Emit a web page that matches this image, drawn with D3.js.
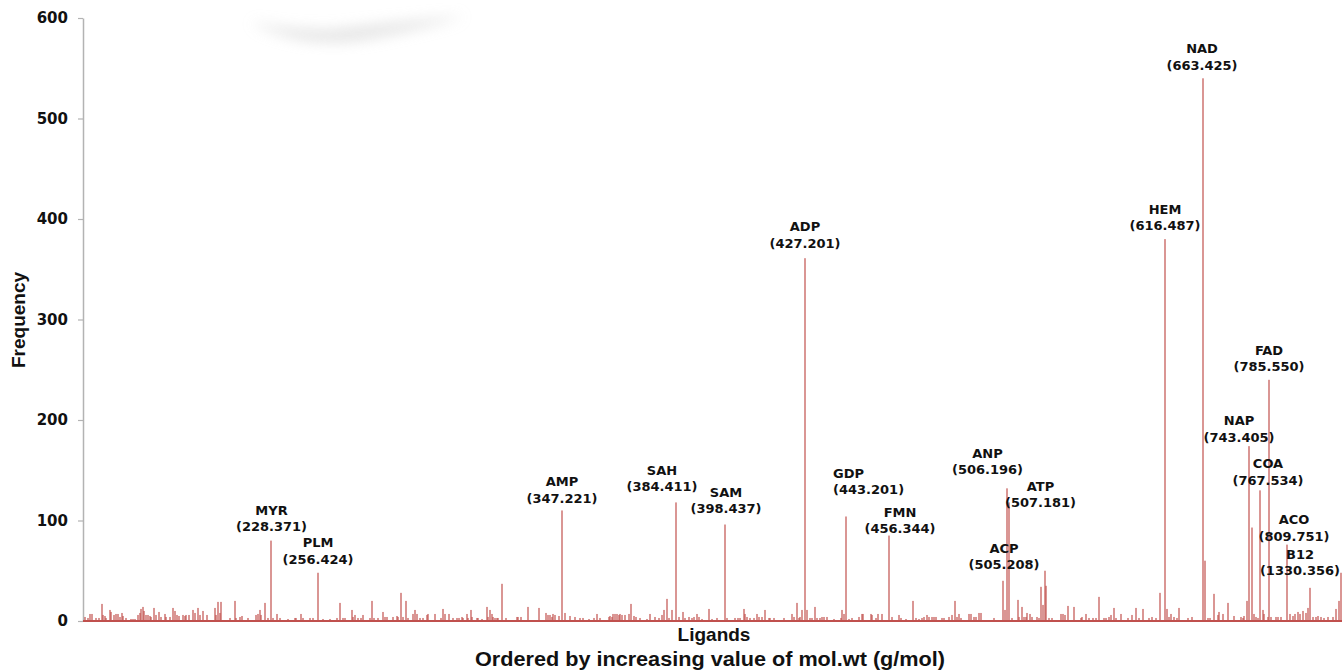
<!DOCTYPE html>
<html>
<head>
<meta charset="utf-8">
<script src="https://cdn.jsdelivr.net/npm/d3@7"></script>
<style>
  body { margin: 0; background: #fff; }
  svg { display: block; }
</style>
</head>
<body>
<div id="chart"></div>
<script>
// ligands ranked by increasing mol.wt (g/mol); only ranks with a visible spike are listed
var ligandCount = 1260;
var yTicks = [0, 100, 200, 300, 400, 500, 600];

// [rank, frequency]
var spikes = [
  [2,4],[5,3],[7,7],[9,7],[13,3],[16,3],[19,17],[20,6],[22,5],[23,3],[27,11],[28,9],[31,6],[33,7],[35,7],[37,4],[39,8],[40,5],[43,3],[48,2],
  [50,2],[52,2],[55,6],[57,8],[58,12],[60,14],[61,10],[63,6],[65,6],[67,5],[68,4],[71,13],[73,6],[76,9],[78,4],[82,7],[83,4],[87,4],[90,13],[92,10],
  [94,6],[96,5],[100,6],[102,5],[103,6],[106,6],[110,11],[112,8],[115,13],[117,6],[120,10],[124,6],[132,13],[133,6],[135,19],[137,8],[138,19],[147,3],[152,20],[153,3],
  [157,4],[159,5],[165,3],[173,6],[175,7],[177,11],[178,6],[182,18],[185,3],[188,80],[190,3],[194,7],[197,3],[205,2],[212,3],[213,3],[218,7],[220,3],[227,3],[230,3],
  [235,48],[240,2],[247,2],
  [254,3],[257,18],[260,3],[262,3],[269,11],[270,4],[272,6],[275,3],[278,3],[280,6],[287,3],[289,20],[291,3],[295,3],[300,9],[302,4],[304,4],[310,4],[314,5],[315,4],
  [318,28],[320,4],[323,20],[325,3],[330,7],[332,11],[334,7],[337,3],[340,3],[344,6],[345,7],[352,7],[358,3],[360,12],[362,7],[366,7],[370,3],[374,3],[376,3],[379,4],
  [380,3],[384,7],[385,3],[388,11],[389,4],[394,3],[395,3],[399,2],[404,14],[405,4],[407,11],[409,7],[410,4],[412,3],[414,3],[415,3],[419,37],[423,3],[434,4],[435,4],
  [438,4],[445,14],[456,13],[463,8],[465,6],[467,6],[469,4],[470,7],[472,6],[476,5],[479,110],[482,8],[487,5],[492,4],[497,3],[500,3],
  [506,2],[511,3],[514,7],[517,3],[526,4],[527,5],[529,4],[530,7],[532,7],[534,7],[536,6],[537,7],[539,6],[542,6],[546,7],[548,17],[551,5],[553,4],[557,3],[564,2],
  [567,7],[572,4],[576,3],[579,6],[581,11],[584,22],[586,3],[589,11],[593,118],[596,4],[600,9],[602,3],[606,4],[609,3],[611,4],[614,7],[616,4],[619,2],[626,12],[629,2],
  [634,3],[642,96],[644,3],[652,3],[655,3],[657,3],[661,12],[662,7],[664,4],[667,3],[671,3],[674,7],[676,4],[679,4],[682,11],[686,3],[687,3],[691,3],[701,3],[709,7],
  [711,4],[714,18],[716,3],[717,4],[719,11],[722,361],[724,11],[727,3],[729,3],[732,14],[734,3],[737,3],[739,4],[741,4],[744,4],[751,2],
  [758,3],[759,11],[761,7],[763,104],[766,2],[769,3],[776,4],[779,7],[780,7],[788,7],[789,6],[793,3],[795,7],[799,7],[806,85],[809,4],[816,6],[818,3],[823,2],[830,20],
  [833,3],[836,2],[839,3],[841,4],[844,6],[846,4],[849,4],[851,4],[853,4],[859,3],[861,3],[866,4],[869,6],[872,20],[874,4],[876,7],[878,3],[886,7],[888,7],[891,4],
  [893,4],[896,8],[898,8],[911,3],[920,40],[922,11],[924,132],[926,118],[929,3],[935,21],[936,4],[939,14],[941,4],[943,4],[944,8],[947,7],[949,4],[954,4],[956,3],[958,34],
  [960,16],[962,50],[963,35],[966,3],[969,3],[978,7],[980,7],[982,6],[985,15],[991,14],[998,3],[999,4],[1003,7],[1006,3],
  [1010,3],[1013,3],[1016,24],[1021,3],[1023,3],[1026,4],[1028,6],[1031,13],[1033,3],[1038,7],[1045,3],[1049,6],[1053,13],[1056,3],[1060,12],[1066,3],[1069,4],[1073,3],[1077,28],[1082,380],
  [1084,12],[1086,4],[1088,7],[1091,4],[1094,3],[1096,13],[1105,3],[1109,4],[1120,540],[1122,60],[1125,3],[1127,3],[1131,27],[1135,6],[1136,9],[1140,7],[1145,18],[1151,5],[1158,4],[1160,3],
  [1161,5],[1164,20],[1166,174],[1169,93],[1171,7],[1173,4],[1175,3],[1177,130],[1180,11],[1181,7],[1185,4],[1186,240],[1188,4],[1193,4],[1195,4],[1198,4],[1204,76],[1207,7],[1210,5],[1212,7],
  [1215,9],[1217,7],[1220,10],[1223,8],[1225,13],[1227,33],[1230,4],[1233,4],[1235,5],[1238,4],[1241,3],[1245,4],[1250,4],[1253,12],[1256,20],[1258,48]
];

var labelCodes = ["MYR","PLM","AMP","SAH","SAM","ADP","GDP","FMN","ACP","ANP","ATP","HEM","NAD","NAP","COA","FAD","ACO","B12"];
var labelMolWt = ["228.371","256.424","347.221","384.411","398.437","427.201","443.201","456.344","505.208","506.196","507.181","616.487","663.425","743.405","767.534","785.550","809.751","1330.356"];

// where each label sits, in chart units: [rank, frequency level of the name baseline]
var labelAnchor = [[188.5,105.5],[235,73.6],[479,134.3],[579,145.3],[643,123.4],[722,388],[750,142.3],[817,103.5],[921,67.7],
                   [904.5,162.2],[957.5,129.4],[1082,405],[1119,564.7],[1156,195],[1185,152.2],[1186,264.7],[1211,96.5],[1217,61.7]];
var labelAlign = {"GDP": "start"};

var W = 1342, H = 671;
var barColor = "#c0504d";

var svg = d3.select("#chart")
  .append("svg")
    .attr("width", W)
    .attr("height", H);

var x = d3.scaleLinear().domain([0, ligandCount]).range([83, 1343]);
var y = d3.scaleLinear().domain([0, 600]).range([621, 18]);

// faint smudge near the top of the scan
var defs = svg.append("defs");
defs.append("filter").attr("id", "blur")
  .attr("x", "-50%").attr("y", "-50%").attr("width", "200%").attr("height", "200%")
  .append("feGaussianBlur").attr("stdDeviation", 7);
svg.append("path")
  .attr("d", "M250,22 Q300,48 360,40 Q420,30 465,16 Q400,22 330,30 Q285,30 250,22 Z")
  .attr("fill", "#d8d8d8")
  .attr("opacity", 0.7)
  .attr("filter", "url(#blur)");

// y axis
var yAxis = svg.append("g")
  .attr("transform", "translate(83,0)")
  .call(d3.axisLeft(y).tickValues(yTicks).tickSize(5).tickSizeOuter(0).tickPadding(10));
yAxis.select(".domain").attr("stroke", "#b3b3b3").attr("stroke-width", 1.5);
yAxis.selectAll(".tick line").attr("stroke", "#b3b3b3").attr("stroke-width", 1.2);
yAxis.selectAll(".tick text")
  .style("font-family", "DejaVu Sans")
  .style("font-weight", "bold")
  .style("font-size", "15px")
  .attr("fill", "#111");

// spikes
svg.append("g")
  .selectAll("rect")
  .data(spikes)
  .enter()
  .append("rect")
    .attr("x", function(d){ return x(d[0]) - 0.75; })
    .attr("width", 1.5)
    .attr("y", function(d){ return y(d[1]); })
    .attr("height", function(d){ return y(0) - y(d[1]); })
    .attr("fill", barColor)
    .attr("fill-opacity", 0.8);

// baseline
svg.append("line")
  .attr("x1", x(0)).attr("x2", W)
  .attr("y1", y(0)).attr("y2", y(0))
  .attr("stroke", barColor)
  .attr("stroke-width", 2);

// peak labels
var labels = svg.append("g")
  .selectAll("text")
  .data(labelCodes)
  .enter()
  .append("text")
    .attr("text-anchor", function(d){ return labelAlign[d] || "middle"; })
    .attr("x", function(d, i){ return x(labelAnchor[i][0]); })
    .attr("y", function(d, i){ return y(labelAnchor[i][1]); })
    .style("font-family", "DejaVu Sans")
    .style("font-weight", "bold")
    .style("font-size", "13px")
    .attr("fill", "#111");
labels.append("tspan").text(function(d){ return d; });
labels.append("tspan")
  .attr("x", function(d, i){ return x(labelAnchor[i][0]); })
  .attr("dy", 16.5)
  .text(function(d, i){ return "(" + labelMolWt[i] + ")"; });

// axis titles
svg.append("text")
  .attr("transform", "translate(25,320) rotate(-90)")
  .attr("text-anchor", "middle")
  .style("font-family", "Liberation Sans")
  .style("font-weight", "bold")
  .style("font-size", "19px")
  .attr("fill", "#111")
  .text("Frequency");

svg.append("text")
  .attr("x", 714).attr("y", 641)
  .attr("text-anchor", "middle")
  .style("font-family", "Liberation Sans")
  .style("font-weight", "bold")
  .style("font-size", "19px")
  .attr("fill", "#111")
  .text("Ligands");

svg.append("text")
  .attr("x", 710).attr("y", 666)
  .attr("text-anchor", "middle")
  .attr("textLength", 470)
  .attr("lengthAdjust", "spacingAndGlyphs")
  .style("font-family", "Liberation Sans")
  .style("font-weight", "bold")
  .style("font-size", "20px")
  .attr("fill", "#111")
  .text("Ordered by increasing value of mol.wt (g/mol)");
</script>
</body>
</html>
